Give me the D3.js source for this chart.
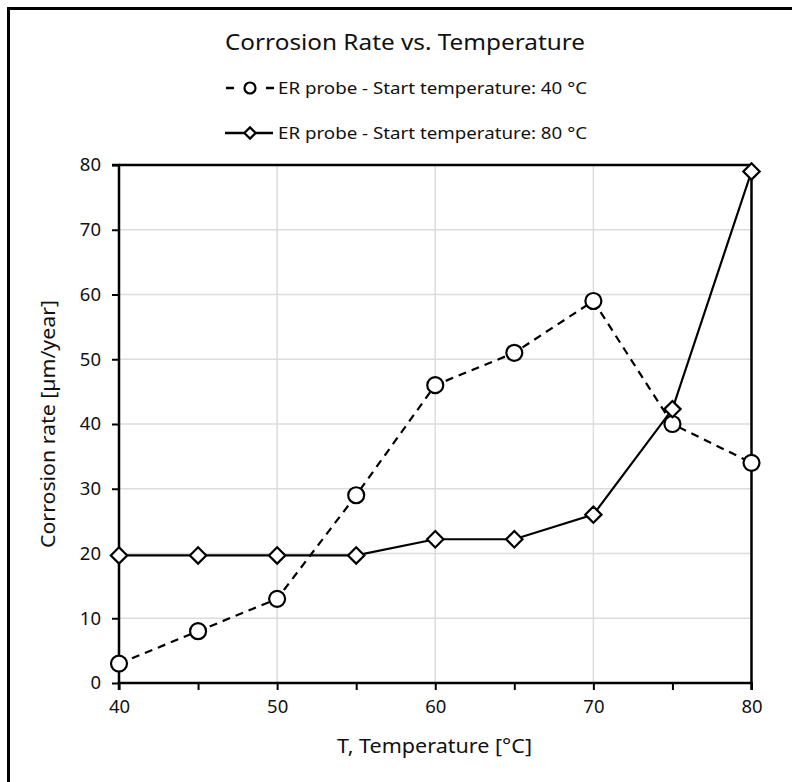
<!DOCTYPE html>
<html>
<head>
<meta charset="utf-8">
<script src="https://cdn.jsdelivr.net/npm/d3@7"></script>
<style>
  body { margin: 0; background: #fff; }
  svg { display: block; font-family: 'Noto Sans', sans-serif; }
</style>
</head>
<body>
<svg id="chart" width="792" height="782"></svg>
<script>
// Valeurs
const temperatures = [40, 45, 50, 55, 60, 65, 70, 75, 80];
const rateStart40 = [3, 8, 13, 29, 46, 51, 59, 40, 34];
const rateStart80 = [19.7, 19.7, 19.7, 19.7, 22.2, 22.2, 26, 42.3, 79];
const xTicks = [40, 45, 50, 55, 60, 65, 70, 75, 80];
const xGrid = [50, 60, 70];
const yTicks = [0, 10, 20, 30, 40, 50, 60, 70, 80];

const titleText = 'Corrosion Rate vs. Temperature';
const legendLabels = ['ER probe - Start temperature: 40 °C', 'ER probe - Start temperature: 80 °C'];
const xTitle = 'T, Temperature  [°C]';
const yTitle = 'Corrosion rate [µm/year]';

const svg = d3.select('#chart');

const plotLeft = 119, plotRight = 751.5, plotTop = 165, plotBottom = 683;

const x = d3.scaleLinear().domain([40, 80]).range([plotLeft, plotRight]);
const y = d3.scaleLinear().domain([0, 80]).range([plotBottom, plotTop]);

// cadre extérieur (coupé à droite et en bas)
svg.append('rect')
  .attr('x', 8.5).attr('y', 8.5)
  .attr('width', 900).attr('height', 900)
  .attr('fill', 'none').attr('stroke', '#000').attr('stroke-width', 3);

// titre
svg.append('text')
  .attr('x', 405).attr('y', 50)
  .attr('text-anchor', 'middle')
  .attr('font-size', 22)
  .attr('textLength', 360).attr('lengthAdjust', 'spacingAndGlyphs')
  .attr('fill', '#111')
  .text(titleText);

// grille
svg.append('g')
  .selectAll('line')
  .data(yTicks.filter((d) => d > 0 && d < 80))
  .enter()
  .append('line')
  .attr('x1', plotLeft).attr('x2', plotRight)
  .attr('y1', (d) => y(d)).attr('y2', (d) => y(d))
  .attr('stroke', '#dcdcdc').attr('stroke-width', 1.5);

svg.append('g')
  .selectAll('line')
  .data(xGrid)
  .enter()
  .append('line')
  .attr('x1', (d) => x(d)).attr('x2', (d) => x(d))
  .attr('y1', plotTop).attr('y2', plotBottom)
  .attr('stroke', '#dcdcdc').attr('stroke-width', 1.5);

// bordure haut / droite
svg.append('path')
  .attr('d', `M${plotLeft},${plotTop}H${plotRight}V${plotBottom}`)
  .attr('fill', 'none').attr('stroke', '#000').attr('stroke-width', 2.5);

// axes
const xAxis = svg.append('g')
  .attr('transform', `translate(0,${plotBottom})`)
  .call(d3.axisBottom(x).tickValues(xTicks).tickSize(7).tickPadding(10)
    .tickFormat((d) => (d % 10 === 0 ? d : '')));

const yAxis = svg.append('g')
  .attr('transform', `translate(${plotLeft},0)`)
  .call(d3.axisLeft(y).tickValues(yTicks).tickSize(7).tickPadding(11));

[xAxis, yAxis].forEach((g) => {
  g.attr('font-size', 18.5).attr('font-family', "'Noto Sans', sans-serif");
  g.select('.domain').attr('stroke', '#000').attr('stroke-width', 2.5);
  g.selectAll('.tick line').attr('stroke', '#000').attr('stroke-width', 2);
  g.selectAll('.tick text').attr('fill', '#111');
});
xAxis.select('.domain').attr('d', `M${plotLeft},7V0H${plotRight}V7`);
yAxis.select('.domain').attr('d', `M-7,${plotTop}H0V${plotBottom}`);

// titres des axes
svg.append('text')
  .attr('x', 434.5).attr('y', 753)
  .attr('text-anchor', 'middle')
  .attr('font-size', 19)
  .attr('textLength', 195).attr('lengthAdjust', 'spacingAndGlyphs')
  .attr('fill', '#111')
  .text(xTitle);

svg.append('text')
  .attr('transform', `translate(55,${(plotTop + plotBottom) / 2}) rotate(-90)`)
  .attr('text-anchor', 'middle')
  .attr('font-size', 19)
  .attr('textLength', 248).attr('lengthAdjust', 'spacingAndGlyphs')
  .attr('fill', '#111')
  .text(yTitle);

// séries
const line = d3.line()
  .x((d) => x(d[0]))
  .y((d) => y(d[1]));

const series40 = temperatures.map((t, i) => [t, rateStart40[i]]);
const series80 = temperatures.map((t, i) => [t, rateStart80[i]]);

svg.append('path')
  .datum(series40)
  .attr('d', line)
  .attr('fill', 'none')
  .attr('stroke', '#000').attr('stroke-width', 2.2)
  .attr('stroke-dasharray', '8,6');

svg.append('g')
  .selectAll('circle')
  .data(series40)
  .enter()
  .append('circle')
  .attr('cx', (d) => x(d[0]))
  .attr('cy', (d) => y(d[1]))
  .attr('r', 8)
  .attr('fill', '#fff').attr('stroke', '#000').attr('stroke-width', 2.2);

svg.append('path')
  .datum(series80)
  .attr('d', line)
  .attr('fill', 'none')
  .attr('stroke', '#000').attr('stroke-width', 2.2);

const diamond = d3.symbol().type(d3.symbolDiamond2).size(170);

svg.append('g')
  .selectAll('path')
  .data(series80)
  .enter()
  .append('path')
  .attr('d', diamond)
  .attr('transform', (d) => `translate(${x(d[0])},${y(d[1])})`)
  .attr('fill', '#fff').attr('stroke', '#000').attr('stroke-width', 2.2);

// légende
const legend = svg.append('g');

legend.append('path')
  .attr('d', 'M226,88H234M266,88H274')
  .attr('stroke', '#000').attr('stroke-width', 2.5);
legend.append('circle')
  .attr('cx', 250).attr('cy', 88).attr('r', 5.5)
  .attr('fill', '#fff').attr('stroke', '#000').attr('stroke-width', 2.2);

legend.append('path')
  .attr('d', 'M225,133H273')
  .attr('stroke', '#000').attr('stroke-width', 2.5);
legend.append('path')
  .attr('d', d3.symbol().type(d3.symbolDiamond2).size(80))
  .attr('transform', 'translate(250,133)')
  .attr('fill', '#fff').attr('stroke', '#000').attr('stroke-width', 2.2);

legend.selectAll('text')
  .data(legendLabels)
  .enter()
  .append('text')
  .attr('x', 278)
  .attr('y', (d, i) => 93.5 + i * 45)
  .attr('font-size', 15.5)
  .attr('textLength', 309).attr('lengthAdjust', 'spacingAndGlyphs')
  .attr('fill', '#111')
  .text((d) => d);
</script>
</body>
</html>
